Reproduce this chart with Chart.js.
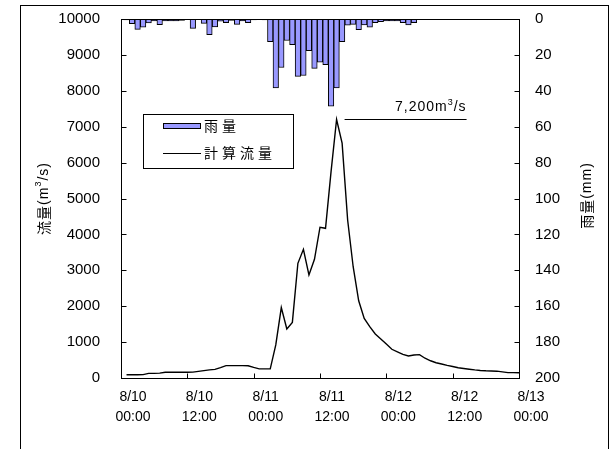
<!DOCTYPE html>
<html>
<head>
<meta charset="utf-8">
<script src="https://cdn.jsdelivr.net/npm/chart.js@4/dist/chart.umd.min.js"></script>
<style>
  html, body { margin: 0; padding: 0; background: #fff; }
</style>
</head>
<body>
<canvas id="chart" width="614" height="449"></canvas>
<script>
// hourly steps from 8/10 00:00 to 8/13 00:00
const HOURS = Array.from({ length: 73 }, (_, i) => i);

// rain (mm/h), right axis, reversed
const RAIN = [
  0, 0.5, 2.6, 5.8, 4.5, 2.2, 1, 3.2, 1, 1, 1, 0.8,
  0, 5.2, 0, 2.4, 8.7, 4.4, 1.2, 2, 0.8, 3, 1, 2,
  0.5, 0, 0.5, 12.6, 38.4, 27, 12, 14.3, 32, 31.5, 17.6, 27.5,
  24, 25.5, 48.5, 38.4, 12.6, 3.5, 3, 6, 3.3, 4.5, 2, 1.5,
  1, 1, 1, 2, 3.3, 2, 0, 0, 0, 0, 0, 0,
  0, 0, 0, 0, 0, 0, 0, 0, 0, 0, 0, 0,
  0
];

// computed discharge (m3/s), left axis
const FLOW = [
  null, 90, 90, 90, 95, 130, 130, 135, 160, 160, 160, 160,
  160, 165, 185, 205, 225, 240, 290, 345, 345, 345, 345, 340,
  295, 255, 255, 255, 920, 1960, 1365, 1550, 3195, 3585, 2870, 3305,
  4200, 4170, 5750, 7200, 6540, 4400, 3100, 2150, 1660, 1430, 1225, 1085,
  950, 800, 730, 660, 613, 640, 650, 550, 480, 425, 390, 350,
  320, 285, 265, 245, 225, 210, 200, 195, 190, 170, 150, 150,
  145
];

const X_TICK_LABELS = [
  ['8/10', '00:00'], ['8/10', '12:00'], ['8/11', '00:00'], ['8/11', '12:00'],
  ['8/12', '00:00'], ['8/12', '12:00'], ['8/13', '00:00']
];

const SERIES_NAMES = ['雨量', '計算流量'];

const BAR_FILL = '#9999FF';
const INK = '#000';
const FONT = "'Liberation Sans', 'Noto Sans CJK JP', Arial, sans-serif";
const CJK = "'Noto Sans CJK JP', sans-serif";

// draw a run of text pieces; a piece with sup:true is small and raised
function richText(ctx, pieces, x, y, size, align) {
  let total = 0;
  pieces.forEach(p => {
    ctx.font = (p.sup ? Math.round(size * 0.65) : size) + 'px ' + (p.cjk ? CJK : FONT);
    p.w = ctx.measureText(p.t).width;
    total += p.w;
  });
  let cx = align === 'center' ? x - total / 2 : align === 'right' ? x - total : x;
  pieces.forEach(p => {
    ctx.font = (p.sup ? Math.round(size * 0.65) : size) + 'px ' + (p.cjk ? CJK : FONT);
    ctx.fillText(p.t, cx, y + (p.sup ? -size * 0.4 : 0));
    cx += p.w;
  });
}

// keep the plot box fixed: no label overhang padding from the axes
function noOverhang(s) {
  s.paddingTop = 0; s.paddingBottom = 0; s.paddingLeft = 0; s.paddingRight = 0;
}

const decor = {
  id: 'decor',
  afterDraw(c) {
    const ctx = c.ctx;
    const ca = c.chartArea;
    const { x, y, y2 } = c.scales;
    ctx.save();
    ctx.strokeStyle = INK;
    ctx.fillStyle = INK;
    ctx.lineWidth = 1;

    // outer frame and plot frame
    ctx.strokeRect(20.5, 5.5, 588, 470);
    const L = Math.round(ca.left) + 0.5, R = Math.round(ca.right) + 0.5;
    const T = Math.round(ca.top) + 0.5, B = Math.round(ca.bottom) + 0.5;
    ctx.strokeRect(L, T, R - L, B - T);

    // inward tick marks
    ctx.beginPath();
    y.ticks.forEach(t => {
      const p = Math.round(y.getPixelForValue(t.value)) + 0.5;
      ctx.moveTo(L, p); ctx.lineTo(L + 5, p);
    });
    y2.ticks.forEach(t => {
      const p = Math.round(y2.getPixelForValue(t.value)) + 0.5;
      ctx.moveTo(R, p); ctx.lineTo(R - 5, p);
    });
    x.ticks.forEach(t => {
      const p = Math.round(x.getPixelForValue(t.value)) + 0.5;
      ctx.moveTo(p, B); ctx.lineTo(p, B - 5);
    });
    ctx.stroke();

    // axis titles (both read bottom to top)
    ctx.textBaseline = 'middle';
    ctx.letterSpacing = '1px';
    ctx.save();
    ctx.translate(44, (ca.top + ca.bottom) / 2);
    ctx.rotate(-Math.PI / 2);
    richText(ctx, [{ t: '流量', cjk: true }, { t: '(m' }, { t: '3', sup: true }, { t: '/s)' }], 0, 0, 14, 'center');
    ctx.restore();
    ctx.save();
    ctx.translate(587, (ca.top + ca.bottom) / 2 - 3);
    ctx.rotate(-Math.PI / 2);
    richText(ctx, [{ t: '雨量', cjk: true }, { t: '(mm)' }], 0, 0, 14, 'center');
    ctx.restore();

    // peak annotation
    const peak = Math.max(...FLOW.filter(v => v != null));
    const ph = HOURS[FLOW.indexOf(peak)];
    const px = x.getPixelForValue(ph), py = Math.round(y.getPixelForValue(peak)) - 0.5;
    const x0 = px + 8, x1 = x0 + 122;
    ctx.beginPath();
    ctx.moveTo(x0, py); ctx.lineTo(x1, py);
    ctx.stroke();
    ctx.textBaseline = 'alphabetic';
    richText(ctx, [{ t: peak.toLocaleString('en-US') + 'm' }, { t: '3', sup: true }, { t: '/s' }], x1, py - 9, 14, 'right');

    // legend box
    ctx.letterSpacing = '0px';
    ctx.fillStyle = '#fff';
    ctx.fillRect(143.5, 114.5, 150, 54);
    ctx.strokeRect(143.5, 114.5, 150, 54);
    ctx.fillStyle = BAR_FILL;
    ctx.fillRect(163.5, 123.5, 37, 5);
    ctx.strokeRect(163.5, 123.5, 37, 5);
    ctx.beginPath();
    ctx.moveTo(163, 153.5); ctx.lineTo(201, 153.5);
    ctx.lineWidth = 1.2;
    ctx.stroke();
    ctx.fillStyle = INK;
    ctx.textBaseline = 'middle';
    ctx.textAlign = 'left';
    ctx.font = '14px ' + CJK;
    ctx.letterSpacing = '4px';
    ctx.fillText(SERIES_NAMES[0], 204, 126);
    ctx.fillText(SERIES_NAMES[1], 204, 153);
    ctx.restore();
  }
};

new Chart(document.getElementById('chart'), {
  type: 'bar',
  data: {
    labels: HOURS,
    datasets: [
      {
        type: 'line', label: SERIES_NAMES[1], data: FLOW, yAxisID: 'y',
        borderColor: INK, borderWidth: 1.4, pointRadius: 0, tension: 0, order: 1
      },
      {
        type: 'bar', label: SERIES_NAMES[0], data: RAIN, yAxisID: 'y2',
        backgroundColor: BAR_FILL, borderColor: INK, borderWidth: 1,
        barPercentage: 1, categoryPercentage: 1, order: 2
      }
    ]
  },
  options: {
    responsive: false,
    animation: false,
    layout: { padding: { top: 19, left: 0, right: 0, bottom: 0 } },
    plugins: { legend: { display: false }, tooltip: { enabled: false } },
    scales: {
      x: {
        type: 'linear', min: 0, max: 72, offset: false,
        grid: { display: false, drawTicks: false, offset: false }, border: { display: false },
        ticks: {
          stepSize: 12, color: INK, padding: 9, labelOffset: 12, maxRotation: 0,
          font: { family: FONT, size: 14, lineHeight: 1.45 },
          callback: (v) => X_TICK_LABELS[v / 12]
        },
        afterFit: (s) => { s.height = 71; noOverhang(s); }
      },
      y: {
        position: 'left', min: 0, max: 10000,
        grid: { display: false, drawTicks: false }, border: { display: false },
        ticks: { stepSize: 1000, color: INK, padding: 21, font: { family: FONT, size: 15 }, callback: (v) => String(v) },
        afterFit: (s) => { s.width = 121; noOverhang(s); }
      },
      y2: {
        position: 'right', min: 0, max: 200, reverse: true,
        grid: { display: false, drawTicks: false }, border: { display: false },
        ticks: { stepSize: 20, color: INK, padding: 16, font: { family: FONT, size: 15 } },
        afterFit: (s) => { s.width = 95; noOverhang(s); }
      }
    }
  },
  plugins: [decor]
});
</script>
</body>
</html>
